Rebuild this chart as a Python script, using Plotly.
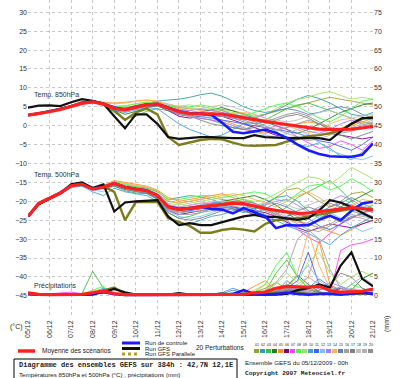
import plotly.graph_objects as go

HOURS = list(range(0, 385, 12))
DATES = ["05/12", "06/12", "07/12", "08/12", "09/12", "10/12", "11/12", "12/12", "13/12",
         "14/12", "15/12", "16/12", "17/12", "18/12", "19/12", "20/12", "21/12"]
LEFT_TICKS = list(range(-45, 31, 5))
RIGHT_TICKS = list(range(0, 76, 5))

PERT_COLORS = ["#a0a030", "#30a0a0", "#40c040", "#208020", "#ff9020", "#800080", "#ff40ff",
               "#40ff40", "#a0e060", "#40a0e0", "#4060ff", "#80c0ff", "#a080ff", "#ffb060",
               "#6080c0", "#a0a0a0", "#808080", "#c0c0c0", "#b0b0b0", "#909090"]

# ---- 850 hPa (°C) ----
MEAN_850 = [2.8,3.2,3.7,4.3,5.0,5.9,6.3,5.7,4.6,4.2,4.9,5.5,5.7,4.6,3.7,3.2,3.2,3.2,3.1,2.6,2.0,1.6,1.1,0.7,0.3,-0.1,-0.5,-0.9,-1.0,-1.0,-0.9,-0.6,-0.2]
CTRL_850 = [2.8,3.2,3.8,4.4,5.1,6.0,6.4,5.8,4.8,4.3,5.0,5.6,5.8,4.8,3.8,3.3,3.3,2.9,0.8,-1.6,-2.0,-1.5,-1.0,-1.9,-3.2,-5.0,-6.5,-7.5,-8.1,-8.2,-8.2,-7.7,-4.7]
GFS_850 = [4.8,5.3,5.4,5.2,6.2,7.0,6.6,5.8,2.5,-0.7,3.0,3.0,0.5,-3.0,-3.5,-3.3,-3.0,-3.0,-3.2,-3.3,-3.3,-2.5,-3.0,-3.2,-3.3,-3.2,-3.2,-3.3,-3.8,-1.5,0.5,2.0,2.0]
PARA_850 = [2.8,3.3,3.8,4.4,5.2,6.2,6.5,5.9,4.0,1.5,3.5,4.5,3.0,-3.0,-5.1,-4.5,-3.8,-3.5,-3.6,-4.5,-5.2,-5.3,-5.1,-5.1,-4.2,-3.5,-2.8,-2.5,-2.0,-1.1,0.5,1.8,2.4]
P01_850 = [2.7,3.1,3.8,4.4,5.1,6.0,6.4,5.8,5.0,4.8,5.5,6.0,6.2,5.5,4.8,4.5,4.2,4.0,4.3,4.0,3.2,2.5,3.0,3.8,4.5,5.2,6.0,6.8,7.5,7.0,6.5,6.0,5.5]
P02_850 = [2.9,3.3,3.7,4.2,4.9,5.8,6.2,5.6,4.8,4.6,5.3,6.0,6.5,6.8,7.0,7.5,8.2,8.6,7.8,6.5,5.0,4.0,3.5,4.0,5.5,7.0,8.0,7.2,6.0,4.5,3.0,2.5,3.5]
P03_850 = [2.8,3.2,3.6,4.3,5.0,5.9,6.3,5.5,3.5,1.8,2.5,3.8,4.5,4.0,3.0,2.5,2.2,1.5,0.5,-0.5,-1.0,0.0,1.5,3.0,4.5,5.5,6.0,5.0,4.0,3.0,2.0,1.0,0.5]
P04_850 = [2.8,3.2,3.7,4.3,5.0,5.9,6.2,5.6,4.2,3.0,3.8,4.8,5.3,4.5,3.5,3.0,3.5,4.2,4.8,4.0,3.0,2.0,1.0,0.0,-1.0,-2.0,-1.0,0.5,2.0,3.5,4.5,5.5,6.0]
P05_850 = [2.9,3.3,3.8,4.4,5.1,6.1,6.6,6.2,6.0,6.2,6.6,6.8,6.5,5.5,4.5,4.0,3.5,2.5,1.5,0.5,-0.5,-1.5,-2.0,-1.5,-0.5,0.5,1.0,0.5,-0.5,-1.0,0.0,1.0,2.0]
P06_850 = [2.8,3.2,3.7,4.2,4.9,5.8,6.2,5.7,4.7,4.3,5.0,5.6,5.5,4.0,2.5,2.0,2.5,3.0,2.5,1.5,0.5,-0.5,-1.5,-2.5,-3.0,-3.5,-3.0,-2.5,-2.0,-2.5,-3.0,-3.5,-3.0]
P07_850 = [2.7,3.1,3.7,4.3,5.0,5.9,6.3,5.8,4.8,4.4,5.0,5.5,5.4,4.2,3.0,2.4,2.0,1.5,1.0,0.0,-1.0,-1.5,-1.0,0.0,-1.0,-3.0,-4.5,-6.0,-5.5,-4.0,-5.0,-6.5,-4.0]
P08_850 = [2.8,3.2,3.7,4.3,5.0,5.9,6.3,5.8,5.0,5.2,5.8,6.2,6.0,5.2,4.8,5.0,5.5,5.0,4.0,3.0,2.5,3.5,4.5,5.5,6.0,5.0,3.5,2.0,1.0,2.5,4.5,6.5,7.0]
P09_850 = [2.8,3.2,3.8,4.4,5.1,6.0,6.4,5.9,5.2,5.3,5.9,6.3,6.1,5.5,5.2,5.5,5.0,4.5,4.0,3.5,3.0,2.5,3.0,4.5,6.0,7.0,7.5,8.5,9.0,8.0,7.0,7.5,7.0]
P10_850 = [2.8,3.2,3.7,4.3,5.0,5.8,6.2,5.6,4.2,3.5,4.2,4.8,4.5,2.5,0.5,-1.0,-2.0,-3.0,-2.5,-1.0,0.5,1.0,0.0,-1.5,-3.5,-5.0,-5.5,-4.5,-6.0,-8.0,-9.0,-7.0,-5.0]
P11_850 = [2.8,3.2,3.7,4.3,5.0,5.9,6.3,5.7,4.5,4.0,4.6,5.2,5.3,4.0,3.2,2.8,2.5,2.0,1.5,1.0,0.5,0.0,-0.5,-1.0,-1.5,-2.0,-3.0,-4.0,-4.5,-5.5,-6.5,-5.0,-3.0]
P12_850 = [2.8,3.3,3.8,4.4,5.1,6.0,6.4,5.8,4.8,4.4,5.1,5.7,5.9,4.5,3.5,3.0,2.5,2.0,1.0,0.0,-0.5,-1.5,-2.5,-3.0,-2.0,-1.0,-2.5,-4.5,-6.5,-7.5,-8.5,-9.0,-8.0]
P13_850 = [2.8,3.2,3.7,4.3,5.0,5.9,6.3,5.7,4.6,4.2,4.9,5.5,5.8,5.0,4.2,4.0,4.5,4.0,3.5,3.0,2.5,2.0,1.5,1.0,0.5,-0.5,-1.5,-2.0,-1.0,0.5,1.5,0.5,-1.0]
P14_850 = [2.9,3.3,3.8,4.4,5.1,6.1,6.5,6.0,5.8,6.0,6.5,6.7,6.4,5.8,5.0,4.5,4.0,3.5,3.0,3.2,3.5,3.0,2.0,1.0,0.0,-1.0,-2.0,-1.0,0.5,1.5,2.0,1.0,0.0]
P15_850 = [2.8,3.2,3.7,4.3,5.0,5.9,6.3,5.7,4.5,4.0,4.7,5.3,5.5,4.5,3.8,3.5,3.0,2.5,2.5,2.0,1.5,2.0,3.0,4.0,4.5,4.0,3.0,3.5,4.5,5.0,4.5,3.0,2.0]
P16_850 = [2.8,3.2,3.7,4.3,5.0,5.9,6.3,5.7,4.6,4.1,4.8,5.4,5.6,4.8,4.0,3.5,3.0,3.5,4.0,3.0,1.5,0.5,-0.5,-1.0,-0.5,0.5,1.5,0.5,-1.0,-2.0,-1.5,-0.5,0.5]
P17_850 = [2.8,3.2,3.7,4.3,5.0,5.8,6.2,5.6,4.4,3.8,4.5,5.1,5.2,4.0,3.0,2.5,1.5,0.5,0.0,-0.5,-1.0,-0.5,0.5,1.5,2.5,3.0,2.0,0.5,-1.0,-2.5,-3.5,-2.5,-1.5]
P18_850 = [2.8,3.2,3.7,4.3,5.0,5.9,6.3,5.7,4.6,4.3,5.0,5.6,5.9,5.5,5.0,4.8,4.5,5.0,5.5,5.0,4.0,3.0,2.0,1.5,1.0,1.5,2.5,3.5,4.0,3.0,2.0,2.5,3.0]
P19_850 = [2.8,3.2,3.7,4.3,5.0,5.9,6.3,5.7,4.5,4.0,4.7,5.3,5.4,4.2,3.2,2.5,2.0,2.5,3.0,2.5,2.0,1.0,0.0,-1.0,-2.0,-3.0,-4.0,-3.5,-2.5,-1.5,-0.5,0.5,1.5]
P20_850 = [2.8,3.2,3.7,4.3,5.0,5.9,6.3,5.7,4.7,4.3,5.0,5.6,5.7,4.8,4.0,3.5,3.2,3.0,2.5,2.0,1.0,0.5,1.0,2.0,3.0,3.5,2.5,1.0,-0.5,-1.5,-1.0,0.0,1.0]

# ---- 500 hPa (°C) ----
MEAN_500 = [-24.0,-20.5,-19.2,-17.8,-15.9,-15.5,-16.8,-16.3,-15.3,-16.3,-16.8,-17.2,-18.5,-21.5,-22.2,-21.9,-21.4,-21.1,-20.8,-20.5,-20.6,-21.3,-21.9,-22.4,-22.8,-23.2,-23.1,-22.8,-22.5,-22.2,-21.7,-21.9,-22.3]
CTRL_500 = [-24.0,-20.5,-19.1,-17.7,-15.8,-15.4,-16.7,-16.2,-15.2,-16.2,-16.7,-17.1,-18.4,-21.4,-22.0,-21.8,-21.4,-22.0,-22.2,-23.2,-21.8,-23.0,-24.0,-27.1,-26.3,-26.4,-26.3,-24.9,-23.8,-25.0,-22.5,-20.6,-20.1]
GFS_500 = [-24.0,-20.8,-19.3,-17.9,-15.5,-15.0,-16.5,-15.5,-22.7,-20.3,-20.0,-19.8,-19.7,-24.0,-26.3,-25.8,-26.3,-26.3,-25.6,-24.8,-24.0,-23.6,-24.1,-24.1,-24.5,-24.9,-24.5,-22.5,-19.7,-20.3,-21.6,-23.0,-24.5]
PARA_500 = [-24.0,-20.7,-19.3,-17.9,-15.6,-15.2,-16.5,-16.0,-17.5,-25.0,-20.2,-20.1,-20.1,-24.5,-25.5,-26.5,-28.3,-28.3,-27.6,-27.2,-27.5,-28.0,-26.0,-25.0,-24.7,-24.5,-24.0,-23.5,-23.0,-22.5,-22.0,-22.0,-22.0]
P01_500 = [-24.0,-20.5,-19.0,-17.6,-15.8,-15.3,-16.6,-16.0,-15.0,-16.0,-16.5,-17.0,-18.0,-20.0,-20.5,-20.0,-19.5,-19.0,-19.5,-20.0,-21.0,-22.0,-21.0,-19.0,-17.0,-16.5,-18.0,-20.0,-21.5,-20.0,-18.0,-17.5,-19.0]
P02_500 = [-24.1,-20.6,-19.2,-17.8,-15.9,-15.6,-16.9,-16.4,-15.2,-15.8,-16.2,-16.5,-17.5,-19.5,-19.0,-18.5,-18.8,-19.5,-20.5,-22.0,-23.0,-22.0,-20.5,-19.0,-18.5,-20.0,-22.5,-24.5,-23.0,-20.5,-19.0,-20.5,-22.0]
P03_500 = [-24.0,-20.4,-19.1,-17.7,-15.8,-15.4,-16.8,-16.5,-16.0,-17.2,-17.8,-18.0,-19.5,-23.0,-24.5,-24.0,-23.0,-22.0,-21.0,-20.0,-19.5,-20.5,-22.0,-23.5,-21.5,-19.0,-17.5,-16.0,-14.5,-17.0,-20.0,-22.5,-21.0]
P04_500 = [-24.0,-20.5,-19.2,-17.8,-15.9,-15.5,-16.7,-16.2,-15.4,-16.5,-17.0,-17.5,-19.0,-22.0,-23.0,-22.5,-21.5,-20.5,-20.0,-19.5,-19.0,-18.5,-19.5,-21.0,-23.0,-25.0,-26.5,-25.0,-23.0,-21.5,-20.0,-18.5,-17.0]
P05_500 = [-24.0,-20.5,-19.1,-17.7,-15.7,-15.2,-16.4,-15.8,-14.5,-15.0,-15.5,-16.0,-17.0,-19.0,-20.0,-19.5,-19.0,-18.5,-18.0,-19.0,-20.5,-21.5,-22.5,-23.5,-24.5,-25.5,-26.0,-27.0,-28.0,-29.0,-27.5,-26.0,-25.0]
P06_500 = [-24.0,-20.6,-19.3,-17.9,-16.0,-15.6,-16.9,-16.5,-15.8,-16.8,-17.4,-17.8,-19.2,-22.5,-23.5,-23.0,-22.5,-22.0,-21.5,-21.5,-22.0,-22.5,-23.0,-24.0,-25.5,-27.0,-28.0,-27.0,-26.0,-26.5,-27.0,-26.0,-25.0]
P07_500 = [-24.0,-20.5,-19.2,-17.8,-15.9,-15.5,-16.8,-16.3,-15.3,-16.2,-16.7,-17.1,-18.3,-21.0,-21.5,-21.0,-20.5,-20.5,-21.0,-21.5,-22.5,-23.5,-24.0,-23.0,-25.0,-27.5,-29.5,-31.0,-28.5,-26.0,-24.5,-23.0,-22.0]
P08_500 = [-24.0,-20.4,-19.0,-17.6,-15.7,-15.3,-16.6,-16.1,-14.8,-15.5,-16.0,-16.3,-17.2,-19.5,-19.5,-19.0,-18.5,-18.5,-19.0,-18.5,-18.0,-17.5,-18.0,-19.5,-20.0,-18.0,-16.0,-15.5,-17.0,-16.0,-14.0,-15.5,-17.5]
P09_500 = [-24.0,-20.5,-19.1,-17.7,-15.8,-15.4,-16.7,-16.2,-15.0,-15.8,-16.3,-16.7,-17.8,-20.5,-21.0,-20.5,-20.0,-19.5,-19.0,-18.5,-19.5,-20.0,-19.5,-18.0,-16.5,-15.0,-13.5,-14.0,-15.5,-13.5,-11.0,-12.5,-14.0]
P10_500 = [-24.0,-20.7,-19.5,-18.2,-16.3,-16.0,-17.5,-18.5,-16.5,-17.5,-18.0,-18.5,-20.0,-24.0,-26.5,-26.0,-25.0,-24.0,-23.5,-22.5,-21.5,-22.0,-23.5,-25.0,-26.5,-27.5,-28.5,-30.0,-31.5,-29.0,-27.0,-25.5,-24.0]
P11_500 = [-24.0,-20.5,-19.2,-17.8,-15.9,-15.5,-16.8,-16.4,-15.5,-16.5,-17.0,-17.5,-18.8,-22.0,-23.0,-22.5,-22.0,-21.5,-21.0,-21.5,-22.5,-23.5,-24.5,-25.0,-24.0,-23.0,-24.5,-26.5,-27.5,-26.0,-24.0,-23.5,-24.5]
P12_500 = [-24.0,-20.6,-19.3,-17.9,-16.1,-15.7,-17.0,-17.5,-15.8,-16.8,-17.3,-17.7,-19.0,-22.5,-24.0,-24.5,-24.0,-23.0,-22.0,-21.0,-20.0,-20.5,-22.0,-24.0,-26.0,-27.0,-25.5,-24.0,-23.0,-24.5,-26.5,-28.0,-27.0]
P13_500 = [-24.0,-20.5,-19.2,-17.8,-15.9,-15.5,-16.8,-16.3,-15.3,-16.3,-16.8,-17.2,-18.4,-21.5,-22.0,-21.5,-21.0,-20.5,-20.0,-20.5,-21.0,-21.5,-21.0,-20.0,-19.5,-21.0,-23.0,-22.0,-20.0,-18.5,-19.5,-21.5,-22.5]
P14_500 = [-24.0,-20.4,-19.0,-17.6,-15.6,-15.2,-16.5,-15.9,-14.6,-15.3,-15.8,-16.2,-17.3,-19.8,-20.5,-20.0,-19.5,-19.0,-18.5,-18.0,-18.5,-19.5,-20.5,-21.5,-20.0,-18.5,-17.5,-19.0,-21.0,-22.5,-21.0,-19.5,-20.0]
P15_500 = [-24.0,-20.5,-19.2,-17.8,-15.9,-15.5,-16.8,-16.3,-15.4,-16.4,-16.9,-17.3,-18.6,-21.8,-22.5,-22.2,-21.8,-21.5,-21.5,-22.0,-22.5,-23.0,-22.0,-20.5,-21.5,-23.0,-24.0,-23.0,-21.5,-20.5,-21.0,-22.0,-23.0]
P16_500 = [-24.0,-20.5,-19.2,-17.8,-15.9,-15.5,-16.8,-16.4,-15.6,-16.6,-17.1,-17.5,-18.8,-22.2,-23.5,-23.5,-23.0,-22.5,-22.0,-21.5,-21.0,-21.5,-22.5,-23.5,-24.5,-26.0,-27.5,-28.0,-26.5,-25.0,-24.0,-24.5,-25.5]
P17_500 = [-24.0,-20.6,-19.3,-17.9,-16.0,-15.6,-16.9,-16.6,-15.9,-16.9,-17.4,-17.8,-19.3,-23.0,-24.5,-25.0,-24.5,-23.5,-22.5,-22.0,-22.5,-23.5,-24.5,-25.0,-24.0,-22.5,-21.5,-22.5,-24.0,-25.5,-24.5,-23.0,-22.5]
P18_500 = [-24.0,-20.5,-19.1,-17.7,-15.8,-15.4,-16.7,-16.2,-15.1,-16.0,-16.5,-16.9,-18.0,-20.8,-21.5,-21.0,-20.5,-20.0,-20.0,-20.5,-21.0,-21.0,-20.5,-20.0,-21.0,-22.0,-21.0,-20.0,-19.5,-20.5,-22.0,-21.5,-21.0]
P19_500 = [-24.0,-20.5,-19.2,-17.8,-15.9,-15.5,-16.8,-16.3,-15.3,-16.3,-16.9,-17.3,-18.6,-22.0,-23.0,-22.8,-22.5,-22.0,-21.5,-21.0,-20.5,-21.0,-22.0,-23.0,-24.0,-25.0,-26.0,-27.0,-26.0,-24.5,-23.5,-24.0,-24.5]
P20_500 = [-24.0,-20.5,-19.2,-17.8,-15.9,-15.5,-16.8,-16.3,-15.2,-16.2,-16.7,-17.1,-18.3,-21.2,-21.8,-21.5,-21.0,-20.8,-20.5,-20.0,-20.0,-20.5,-21.5,-22.5,-23.0,-24.0,-23.0,-21.5,-20.5,-21.5,-22.5,-23.5,-24.0]

# ---- precipitation (mm) ----
MEAN_PR = [0.8,0.4,0.3,0.3,0.3,0.4,0.8,1.3,0.6,0.3,0.3,0.3,0.3,0.3,0.3,0.3,0.3,0.3,0.3,0.3,0.4,0.8,1.0,2.0,2.5,2.4,2.3,2.5,1.4,0.9,1.0,1.2,1.8]
CTRL_PR = [0.5,0.3,0.3,0.3,0.3,0.3,0.6,1.0,0.5,0.2,0.2,0.2,0.2,0.2,0.2,0.2,0.2,0.2,0.3,0.5,1.5,0.5,0.3,0.5,0.8,0.5,0.3,0.5,0.5,0.3,0.5,0.8,0.5]
GFS_PR = [0.8,0.3,0.3,0.3,0.3,0.3,0.3,1.0,1.8,0.9,0.3,0.3,0.3,0.3,0.7,0.3,0.3,0.3,0.6,0.3,0.3,0.3,0.3,0.3,0.5,1.5,2.0,3.0,2.2,8.0,11.5,4.5,2.5]
PARA_PR = [0.5,0.3,0.3,0.3,0.3,0.3,0.6,1.5,2.2,0.5,0.3,0.3,0.3,0.3,0.3,0.3,0.3,0.3,0.3,0.3,0.3,0.5,0.5,0.8,1.0,0.8,0.5,0.5,0.5,0.8,0.5,0.5,0.5]
P01_PR = [0.3,0.2,0.2,0.2,0.2,0.3,1.0,1.5,0.5,0.2,0.2,0.2,0.2,0.2,0.3,0.3,0.2,0.2,0.2,0.3,0.5,1.0,2.0,3.5,2.0,1.0,0.5,1.5,3.0,1.5,0.5,0.5,1.0]
P02_PR = [0.3,0.2,0.2,0.2,0.2,0.3,0.8,1.2,0.5,0.2,0.2,0.2,0.2,0.2,0.2,0.2,0.2,0.3,0.5,1.5,0.8,0.3,0.5,1.0,4.0,2.0,1.0,0.5,0.3,0.5,2.0,1.0,0.5]
P03_PR = [0.3,0.2,0.2,0.2,0.2,0.5,6.5,2.0,0.5,0.2,0.2,0.2,0.2,0.2,0.2,0.2,0.2,0.2,0.2,0.2,0.3,0.5,1.0,6.0,9.5,5.0,2.0,1.0,0.5,1.0,0.5,0.3,0.5]
P04_PR = [0.3,0.2,0.2,0.2,0.2,0.3,0.8,1.0,0.5,0.2,0.2,0.2,0.2,0.2,0.2,0.2,0.2,0.2,0.2,0.3,0.3,0.5,0.5,1.0,2.5,5.5,3.0,1.0,0.5,0.5,1.5,4.5,6.0]
P05_PR = [0.3,0.2,0.2,0.2,0.2,0.3,1.2,1.0,0.4,0.2,0.2,0.2,0.2,0.2,0.2,0.2,0.2,0.2,0.3,0.5,1.0,2.5,4.0,1.5,0.5,2.0,5.0,14.5,3.0,1.0,0.5,0.3,0.5]
P06_PR = [0.3,0.2,0.2,0.2,0.2,0.3,0.5,0.8,0.3,0.2,0.2,0.2,0.2,0.2,0.2,0.2,0.2,0.2,0.2,0.2,0.3,0.5,1.0,2.0,1.5,0.8,0.5,0.5,1.0,2.0,1.0,0.5,0.3]
P07_PR = [0.3,0.3,0.5,0.8,1.0,0.5,0.5,0.8,0.3,0.2,0.2,0.2,0.2,0.2,0.2,0.2,0.2,0.2,0.2,0.2,0.3,0.5,0.5,1.0,1.5,2.5,1.0,0.5,0.5,12.0,13.5,14.0,15.0]
P08_PR = [0.3,0.2,0.2,0.2,0.2,0.3,1.5,2.5,0.5,0.2,0.2,0.2,0.2,0.2,0.2,0.2,0.2,0.2,0.2,0.3,0.5,1.0,3.0,8.0,11.5,5.0,2.0,0.5,0.5,1.0,3.0,2.0,1.0]
P09_PR = [0.3,0.2,0.2,0.2,0.2,0.3,1.0,1.3,0.4,0.2,0.2,0.2,0.2,0.2,0.2,0.2,0.2,0.2,0.2,0.2,0.3,0.5,1.5,3.0,6.0,3.5,9.0,11.5,6.0,3.0,5.0,6.5,5.0]
P10_PR = [0.3,0.2,0.2,0.2,0.2,0.3,1.0,2.0,0.6,0.2,0.2,0.2,0.2,0.2,0.2,0.2,0.2,0.5,0.8,2.0,1.0,0.5,0.5,1.5,3.0,1.5,0.8,0.5,1.0,2.5,1.5,0.5,0.3]
P11_PR = [0.3,0.2,0.2,0.2,0.2,0.3,0.8,1.0,0.4,0.2,0.2,0.2,0.2,0.2,0.2,0.2,0.2,0.2,0.3,0.5,1.5,0.5,0.5,1.0,2.0,4.0,11.5,3.0,1.0,0.5,0.5,1.0,2.0]
P12_PR = [0.3,0.2,0.2,0.2,0.2,0.3,0.7,1.5,0.5,0.2,0.2,0.2,0.2,0.2,0.2,0.2,0.2,0.2,0.3,0.5,0.5,1.0,0.8,1.5,2.5,5.0,8.0,4.0,2.0,1.0,0.5,0.5,0.5]
P13_PR = [0.3,0.2,0.2,0.2,0.2,0.3,0.6,1.0,0.4,0.2,0.2,0.2,0.2,0.2,0.2,0.2,0.2,0.2,0.2,0.3,0.5,0.8,1.0,1.5,2.0,1.5,1.0,2.0,3.5,2.5,1.0,0.5,0.5]
P14_PR = [0.3,0.2,0.2,0.2,0.2,0.3,1.5,1.2,0.4,0.2,0.2,0.2,0.2,0.2,0.2,0.2,0.2,0.2,0.3,0.5,0.5,1.5,3.0,2.0,1.0,6.0,17.0,8.0,2.0,0.5,0.5,0.5,1.0]
P15_PR = [0.3,0.2,0.2,0.2,0.2,0.3,0.8,1.1,0.4,0.2,0.2,0.2,0.2,0.2,0.2,0.2,0.2,0.2,0.2,0.2,0.3,0.5,1.0,2.0,1.5,1.0,2.0,4.5,2.5,1.0,0.8,1.5,2.0]
P16_PR = [0.3,0.2,0.2,0.2,0.2,0.3,0.6,0.9,0.3,0.2,0.2,0.2,0.2,0.2,0.2,0.2,0.2,0.2,0.2,0.2,0.3,0.5,1.0,3.5,7.0,15.0,17.5,15.0,7.0,2.0,1.0,0.5,0.5]
P17_PR = [0.3,0.2,0.2,0.2,0.2,0.3,0.7,1.0,0.4,0.2,0.2,0.2,0.2,0.2,0.2,0.2,0.2,0.2,0.2,0.2,0.3,0.5,0.8,1.5,2.0,1.0,0.5,1.5,2.5,6.0,5.0,2.0,1.0]
P18_PR = [0.3,0.2,0.2,0.2,0.2,0.3,0.8,1.2,0.4,0.2,0.2,0.2,0.2,0.2,0.2,0.2,0.2,0.2,0.2,0.2,0.3,0.5,1.0,1.5,3.0,2.0,1.0,0.5,0.5,1.0,2.0,1.5,1.0]
P19_PR = [0.3,0.2,0.2,0.2,0.2,0.3,0.7,1.0,0.4,0.2,0.2,0.2,0.2,0.2,0.2,0.2,0.2,0.2,0.2,0.2,0.3,0.5,0.5,1.0,2.0,3.0,5.0,3.0,1.5,1.0,3.0,5.0,3.0]
P20_PR = [0.3,0.2,0.2,0.2,0.2,0.3,0.8,1.1,0.4,0.2,0.2,0.2,0.2,0.2,0.2,0.2,0.2,0.2,0.2,0.2,0.3,0.5,0.8,1.0,1.5,2.0,1.5,1.0,0.8,1.0,1.5,1.0,0.8]

PERT_850 = [P01_850, P02_850, P03_850, P04_850, P05_850, P06_850, P07_850, P08_850, P09_850, P10_850,
            P11_850, P12_850, P13_850, P14_850, P15_850, P16_850, P17_850, P18_850, P19_850, P20_850]
PERT_500 = [P01_500, P02_500, P03_500, P04_500, P05_500, P06_500, P07_500, P08_500, P09_500, P10_500,
            P11_500, P12_500, P13_500, P14_500, P15_500, P16_500, P17_500, P18_500, P19_500, P20_500]
PERT_PR = [P01_PR, P02_PR, P03_PR, P04_PR, P05_PR, P06_PR, P07_PR, P08_PR, P09_PR, P10_PR,
           P11_PR, P12_PR, P13_PR, P14_PR, P15_PR, P16_PR, P17_PR, P18_PR, P19_PR, P20_PR]

X = [h / 24 for h in HOURS]

fig = go.Figure()


def add(y, color, width, axis="y"):
    fig.add_trace(go.Scatter(x=X, y=y, mode="lines", yaxis=axis,
                             line=dict(color=color, width=width), hoverinfo="skip"))


for k in range(20):
    add(PERT_850[k], PERT_COLORS[k], 0.9)
    add(PERT_500[k], PERT_COLORS[k], 0.9)
    add(PERT_PR[k], PERT_COLORS[k], 0.9, "y2")

for series, axis in ((PARA_850, "y"), (PARA_500, "y"), (PARA_PR, "y2")):
    add(series, "#7d7d1e", 2.4, axis)
for series, axis in ((GFS_850, "y"), (GFS_500, "y"), (GFS_PR, "y2")):
    add(series, "#111111", 2.2, axis)
for series, axis in ((CTRL_850, "y"), (CTRL_500, "y"), (CTRL_PR, "y2")):
    add(series, "#1a1aff", 2.6, axis)
for series, axis in ((MEAN_850, "y"), (MEAN_500, "y"), (MEAN_PR, "y2")):
    add(series, "#ff2020", 3.2, axis)

TXT = "#333333"
FONT = "Liberation Sans"

ann = []
for txt, yv in (("Temp. 850hPa", 8.1), ("Temp. 500hPa", -13.0), ("Précipitations", -42.4)):
    ann.append(dict(x=0.19, y=yv, xref="x", yref="y", text=txt, showarrow=False,
                    xanchor="left", yanchor="middle", font=dict(family=FONT, size=7, color=TXT)))


def px(xp):
    return (xp - 28) / 345


def py(yp):
    return (318 - yp) / 318


def label(x, y, text, size=6.5, family=FONT, anchor="left", angle=0, bold=False):
    ann.append(dict(x=px(x), y=py(y), xref="paper", yref="paper",
                    text=("<b>%s</b>" % text) if bold else text, showarrow=False,
                    xanchor=anchor, yanchor="middle", textangle=angle,
                    font=dict(family=family, size=size, color="#222222")))


label(16, 327, "(°C)", anchor="center", size=7)
label(387, 324, "(mm)", anchor="center", angle=-90, size=7)
label(143, 343, "Run de controle", size=6)
label(143, 348.5, "Run GFS", size=6)
label(143, 354, "Run GFS Parallele", size=6)
label(40, 351, "Moyenne des scénarios")
label(194, 347.5, "20 Perturbations")
for k in range(20):
    label(256.5 + 6 * k, 345, "%02d" % (k + 1), size=3.6, anchor="center")
label(17, 365, "Diagramme des ensembles GEFS sur 384h : 42,7N 12,1E", size=7,
      family="Liberation Mono", bold=True)
label(17, 374, "Températures 850hPa et 500hPa (°C) , précipitations (mm)", size=6.2)
label(243, 362, "Ensemble GEFS du 05/12/2009 - 00h", size=6.2)
label(243, 373.5, "Copyright 2007 Meteociel.fr", size=6.2, family="Liberation Mono", bold=True)

shapes = []
for (x0, x1, yy, col, w, dash) in ((122, 140, 343, "#1a1aff", 3, None),
                                   (122, 140, 348.5, "#111111", 3, None),
                                   (122, 140, 354, "#b0a020", 3, "dot"),
                                   (18, 35, 351, "#ff2020", 3.5, None)):
    ln = dict(color=col, width=w)
    if dash:
        ln["dash"] = dash
    shapes.append(dict(type="line", xref="paper", yref="paper", x0=px(x0), x1=px(x1),
                       y0=py(yy), y1=py(yy), line=ln))
for k in range(20):
    shapes.append(dict(type="rect", xref="paper", yref="paper", x0=px(254 + 6 * k),
                       x1=px(259 + 6 * k), y0=py(353), y1=py(349),
                       fillcolor=PERT_COLORS[k], line=dict(width=0)))
shapes.append(dict(type="rect", xref="paper", yref="paper", x0=px(14), x1=px(237),
                   y0=py(379), y1=py(359), fillcolor="rgba(0,0,0,0)",
                   line=dict(color="#000000", width=1)))

fig.update_layout(
    width=400, height=378, margin=dict(l=28, r=27, t=0, b=60),
    paper_bgcolor="white", plot_bgcolor="white", showlegend=False,
    font=dict(family=FONT, size=7, color=TXT),
    xaxis=dict(range=[0, 16], tickvals=list(range(17)), ticktext=DATES, tickangle=-90,
               showgrid=True, gridcolor="#c8c8c8", griddash="dot", gridwidth=1,
               zeroline=False, showline=False, ticks="", tickfont=dict(size=7)),
    yaxis=dict(range=[-50.87, 33.25], tickvals=LEFT_TICKS, showgrid=True,
               gridcolor="#c8c8c8", griddash="dot", gridwidth=1, zeroline=False,
               showline=False, ticks="", tickfont=dict(size=7)),
    yaxis2=dict(range=[-5.87, 78.25], tickvals=RIGHT_TICKS, overlaying="y", side="right",
                showgrid=False, zeroline=False, showline=False, ticks="",
                tickfont=dict(size=7)),
    annotations=ann, shapes=shapes,
)

fig.write_html("out.html", config={"displayModeBar": False},
               post_script="document.body.style.margin='0';document.body.style.padding='0';")
